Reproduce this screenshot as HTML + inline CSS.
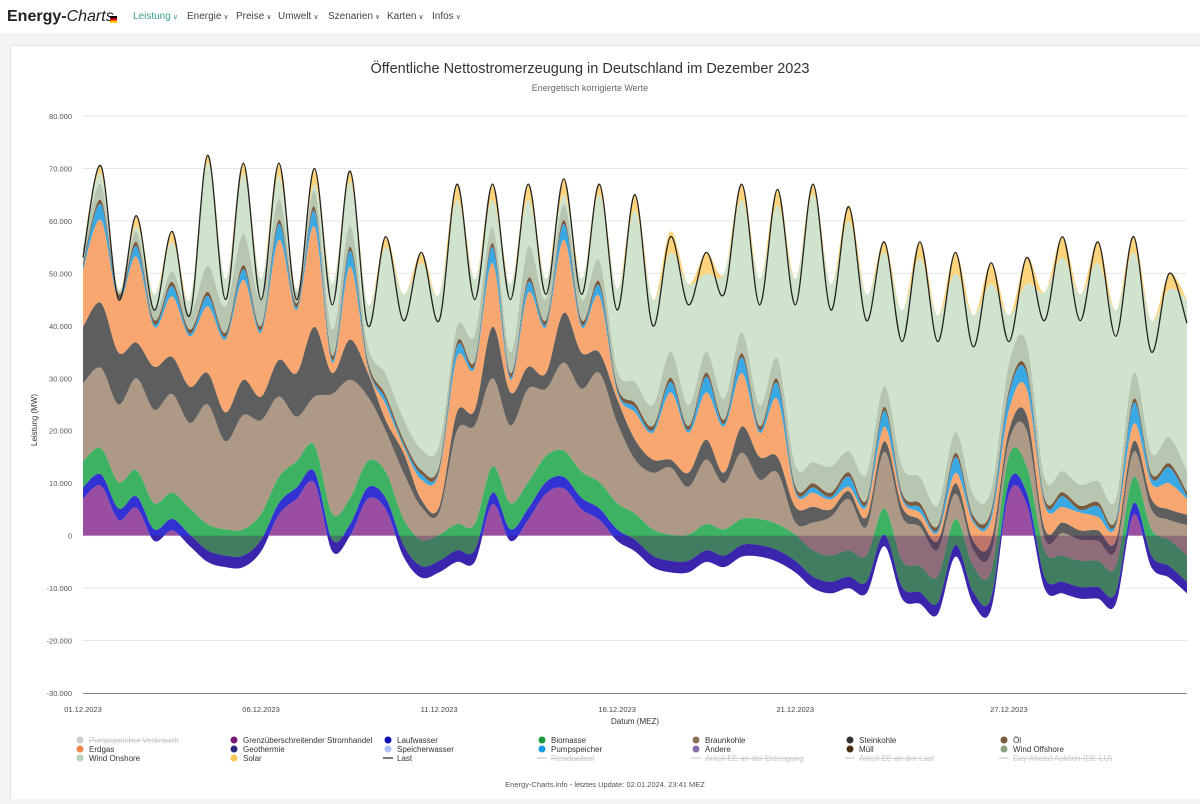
<!DOCTYPE html>
<html><head><meta charset="utf-8"><style>
body{margin:0;width:1200px;height:799px;overflow:hidden;background:#f3f4f6;font-family:"Liberation Sans",sans-serif}
svg text{font-family:"Liberation Sans",sans-serif}
</style></head><body>
<svg id="c" width="1200" height="799" xmlns="http://www.w3.org/2000/svg">
<rect x="0" y="0" width="1200" height="33" fill="#fff"/>
<rect x="10.5" y="45.5" width="1190" height="760" fill="#fff" stroke="#e3e3e3"/>
<g><text x="7" y="21" font-size="16" font-weight="bold" fill="#222">Energy-<tspan font-weight="normal" font-style="italic">Charts</tspan></text>
<rect x="110" y="16" width="7" height="2.3" fill="#000"/><rect x="110" y="18.3" width="7" height="2.3" fill="#d00"/><rect x="110" y="20.6" width="7" height="2.3" fill="#fc0"/></g>
<g font-size="10" fill="#444">
<text x="133" y="19" fill="#3aa08a">Leistung<tspan font-size="7" dx="2">∨</tspan></text>
<text x="187" y="19">Energie<tspan font-size="7" dx="2">∨</tspan></text>
<text x="236" y="19">Preise<tspan font-size="7" dx="2">∨</tspan></text>
<text x="278" y="19">Umwelt<tspan font-size="7" dx="2">∨</tspan></text>
<text x="328" y="19">Szenarien<tspan font-size="7" dx="2">∨</tspan></text>
<text x="387" y="19">Karten<tspan font-size="7" dx="2">∨</tspan></text>
<text x="432" y="19">Infos<tspan font-size="7" dx="2">∨</tspan></text>
</g>
<text x="590" y="73" text-anchor="middle" font-size="14.5" fill="#333">Öffentliche Nettostromerzeugung in Deutschland im Dezember 2023</text>
<text x="590" y="91" text-anchor="middle" font-size="9" fill="#666">Energetisch korrigierte Werte</text>
<g id="grid"></g><g id="areas"></g><g id="axes"></g>
<text transform="translate(37,420) rotate(-90)" text-anchor="middle" font-size="8" fill="#333">Leistung (MW)</text>
<text x="635" y="724" text-anchor="middle" font-size="8" fill="#333">Datum (MEZ)</text>
<g id="legend" font-size="8" fill="#333"></g>
<text x="605" y="787" text-anchor="middle" font-size="7.5" fill="#555">Energy-Charts.info - letztes Update: 02.01.2024, 23:41 MEZ</text>
</svg>
<script>
const yTicks=[80000,70000,60000,50000,40000,30000,20000,10000,0,-10000,-20000,-30000];
const yTickLabels=["80.000","70.000","60.000","50.000","40.000","30.000","20.000","10.000","0","-10.000","-20.000","-30.000"];
const xTickDays=[0,5,10,15,20,26];
const xTickLabels=["01.12.2023","06.12.2023","11.12.2023","16.12.2023","21.12.2023","27.12.2023"];
// values in GW, sampled every 12h (t = 0, 0.5, ... 31 days)
const last=[53,70.5,45,61,43,58,42,72.5,45,71,45,71,45,70,44,69.5,40,57,41,54,41,67,45,67,45,67,46,68,46,67,43,65,40,57,44,54,46,67,44,66,44,67,43,62.7,41,56,37,56,37,54,36,52,37,53,41,57,41,56,38,57,35,50,40.5];
const handel=[7,9.5,3,5.3,-1,1,-2,-5,-6,-6,-3,4,7,10,-3,0,7,5,-4,-8,-7,-5,-5,6,-1,3,8,9,5,3,-1,-3,-6,-7,-7,-5,-6,-4,-4,-5,-7,-10,-11,-10,-11,-2,-12,-13,-15,-4,-13,-14,8,6,-10,-11,-12,-12,-13,4,-6,-8,-11];
const laufwasser=[2.2,2.2,2.2,2.2,2.2,2.2,2.2,2.2,2.2,2.2,2.2,2.2,2.2,2.2,2.2,2.2,2.2,2.2,2.2,2.2,2.2,2.2,2.2,2.2,2.2,2.2,2.2,2.2,2.2,2.2,2.2,2.2,2.2,2.2,2.2,2.2,2.2,2.2,2.2,2.2,2.2,2.2,2.2,2.2,2.2,2.2,2.2,2.2,2.2,2.2,2.2,2.2,2.2,2.2,2.2,2.2,2.2,2.2,2.2,2.2,2.2,2.2,2.2];
const biomasse=[5,5,5,5,5,5,5,5,5,5,5,5,5,5,5,5,5,5,5,5,5,5,5,5,5,5,5,5,5,5,5,5,5,5,5,5,5,5,5,5,5,5,5,5,5,5,5,5,5,5,5,5,5,5,5,5,5,5,5,5,5,5,5];
const braunkohle=[14.8,15.3,14.8,17.5,17.8,18.8,16.3,22.8,16.8,21.8,17.8,15.3,8.5,9.3,22.8,22.5,12.3,7.8,8.8,6.3,4.2,17.8,18.8,16.8,14.8,17.8,12.8,16.8,15.8,20.8,15.3,10.3,10.8,12.8,9.1,12.3,8.8,12.6,7.5,9.8,2.3,5.3,7.4,9.8,5.5,10.8,8.4,7.5,5.1,4.8,3.1,3.6,2.8,6.8,2.4,4.3,4,3.8,3.1,4.8,3.8,3.8,5.8];
const steinkohle=[10.8,12.4,9.9,6.8,8.2,7.1,6.9,6,5.5,6.7,4.5,7,8.3,13.3,4,7.7,4.5,2,3.8,1.4,1.1,3.5,3,9.8,6.3,4.2,3,9.5,6.9,3.9,4.5,3.8,2.5,1.5,2.7,3.8,2,5,4.3,3,3,3,1.4,1.5,1.8,2,1.9,1.3,1.7,2,1.7,2.2,2,3,1.8,2,1.8,2,1.7,2,2,2,2];
const erdgas=[10.9,15.8,10.1,16.4,7.6,11.5,9.6,12.7,13.9,19.1,12.2,22.9,12,19.1,2,13.9,1,3,1.2,3.8,6.5,10.5,8,12.2,2.4,14.1,8.8,13.9,4.9,10.7,1.3,5.2,5.1,12.8,7.6,9,8.8,10.2,4.6,11,2.7,2.7,1.9,0.8,2,2.8,1.4,1.4,1.6,2,3.5,4,4,5,4.5,3,3.4,2.6,2.7,3.3,3,5,3];
const pumpspeicher=[0.5,3,0.3,2,0.5,2,0.5,2,0.5,2,0.5,3,0.5,3,0.5,3,0.5,1,0.5,1,0.5,2,0.5,3,0.5,2,0.5,3,0.5,2,0.5,1,0.5,2,0.5,3,0.5,3,0.5,3,0.5,1,0.5,2,0.5,3,0.5,1,0.5,3,0.5,1,3,3,0.5,2,0.5,2,0.5,4,1,3,0.5];
const oel=[0.8,0.8,0.8,0.8,0.8,0.8,0.8,0.8,0.8,0.8,0.8,0.8,0.8,0.8,0.8,0.8,0.8,0.8,0.8,0.8,0.8,0.8,0.8,0.8,0.8,0.8,0.8,0.8,0.8,0.8,0.8,0.8,0.8,0.8,0.8,0.8,0.8,0.8,0.8,0.8,0.8,0.8,0.8,0.8,0.8,0.8,0.8,0.8,0.8,0.8,0.8,0.8,0.8,0.8,0.8,0.8,0.8,0.8,0.8,0.8,0.8,0.8,0.8];
const windOffshore=[2.5,3,0.6,2,2,2,3,5,5,6,5,4,2,3,5,4,3,4,4,4,4,3,5,3,4,6,4,3,4,4,3,4,4,5,4,4,4,4,4,4,4,4,5,4,5,4,5,5,4,4,4,4,5,5,4,4,4,4,4,5,4,5,4];
const windOnshore=[0.5,2,0.3,1,2.9,5.6,2.7,19.5,5.3,11.4,4,4.3,0.7,1.3,8.7,8.4,7.7,24.2,23.7,35.5,28.7,24.2,10.7,5.2,13,8.9,3.9,1.8,3.9,12.6,15.4,32.7,20.1,18.9,23.1,14.9,23.9,25.2,24.1,29.2,35.5,51,34.8,43.9,34.2,25.4,29.8,41.8,36.1,30.2,34.2,39.2,9.2,11.2,35.2,40.7,36.3,41.6,36,22.9,25.2,28.2,32.7];
const solar=[0,1.5,0,2,0,2,0,1.5,0,2,0,2.5,0,3,0,2,0,2,0,2,0,3,0,3,0,3,0,3,0,2,0,3,0,4,0,4,0,3,0,3,0,2,0,3,0,2,0,3,0,4,0,4,0,5,0,4,0,4,0,3,0,3,0];

const NS='http://www.w3.org/2000/svg';
const X0=83,X1=1187,YT=116,YB=693,DAYS=31;
const xs=d=>X0+(d/DAYS)*(X1-X0);
const ys=v=>YT+(80000-v)/110000*(YB-YT);
const tOf=i=>i*0.5;
function mk(tag,attrs,parent){const e=document.createElementNS(NS,tag);for(const k in attrs)e.setAttribute(k,attrs[k]);parent.appendChild(e);return e;}
const grid=document.getElementById('grid'),areas=document.getElementById('areas'),axes=document.getElementById('axes');
yTicks.forEach((v,i)=>{
 if(v!==-30000){const l=mk('line',{x1:X0,x2:X1,y1:ys(v),y2:ys(v),stroke:'#e6e6e6','stroke-width':1},grid);
 
 }
 const t=mk('text',{x:72,y:ys(v)+3,'text-anchor':'end','font-size':7.5,fill:'#555'},axes);t.textContent=yTickLabels[i];
 
 
});
const ax=mk('line',{x1:X0,x2:X1,y1:YB+0.5,y2:YB+0.5,stroke:'#888','stroke-width':1},axes);


xTickDays.forEach((d,i)=>{const t=mk('text',{x:xs(d),y:712,'text-anchor':'middle','font-size':7.5,fill:'#444'},axes);t.textContent=xTickLabels[i];
 
 });

const defs=mk('defs',{},areas);
const cpA=mk('clipPath',{id:'above'},defs);mk('rect',{x:0,y:0,width:1200,height:ys(0)},cpA);
const cpB=mk('clipPath',{id:'below'},defs);mk('rect',{x:0,y:ys(0),width:1200,height:800},cpB);

const n=last.length;
// smooth (Catmull-Rom) path through points
function smooth(pts,start){
 let p=(start?'M':'L')+pts[0][0].toFixed(1)+','+pts[0][1].toFixed(1);
 for(let i=0;i<pts.length-1;i++){
  const p0=pts[Math.max(0,i-1)],p1=pts[i],p2=pts[i+1],p3=pts[Math.min(pts.length-1,i+2)];
  const c1x=p1[0]+(p2[0]-p0[0])/6,c1y=p1[1]+(p2[1]-p0[1])/6;
  const c2x=p2[0]-(p3[0]-p1[0])/6,c2y=p2[1]-(p3[1]-p1[1])/6;
  p+='C'+c1x.toFixed(1)+','+c1y.toFixed(1)+' '+c2x.toFixed(1)+','+c2y.toFixed(1)+' '+p2[0].toFixed(1)+','+p2[1].toFixed(1);
 }
 return p;
}
function pts(arr){return arr.map((v,i)=>[xs(tOf(i)),ys(v*1000)]);}
function areaPath(lo,hi){return smooth(pts(hi),true)+smooth(pts(lo).reverse(),false)+'Z';}
const zero=last.map(()=>0);
const pp=mk('path',{d:areaPath(zero,handel),fill:'#9a4ea2','clip-path':'url(#above)'},areas);


const layers=[['laufwasser',laufwasser,'#3232d2'],['biomasse',biomasse,'#3cb262'],['braunkohle',braunkohle,'#ae9886'],['steinkohle',steinkohle,'#5e5e5e'],['erdgas',erdgas,'#f7a76f'],['pumpspeicher',pumpspeicher,'#3aa9e3'],['oel',oel,'#7c5a3e'],['wind-offshore',windOffshore,'#b7c6b0'],['wind-onshore',windOnshore,'#d0e3cc'],['solar',solar,'#fdd47c']];
let base=handel.slice();
layers.forEach(([name,vals,col])=>{
 const top=base.map((b,i)=>b+vals[i]);
 const p=mk('path',{d:areaPath(base,top),fill:col},areas);
 
 
 base=top;
});
const ov=mk('path',{d:areaPath(zero,handel),fill:'#4a1060','fill-opacity':0.32,'clip-path':'url(#below)'},areas);


const ll=mk('path',{d:smooth(pts(last),true),fill:'none',stroke:'#222','stroke-width':1.3},areas);



const leg=[["Pumpspeicher Verbrauch","#ccc",1,0],["Grenzüberschreitender Stromhandel","#7a1a78",0,0],["Laufwasser","#1010b0",0,0],["Biomasse","#1a9a3a",0,0],["Braunkohle","#8b6f55",0,0],["Steinkohle","#333",0,0],["Öl","#7a5a40",0,0],
["Erdgas","#f08a4b",0,0],["Geothermie","#2a2a80",0,0],["Speicherwasser","#b0c0ff",0,0],["Pumpspeicher","#1a9ae0",0,0],["Andere","#8a66aa",0,0],["Müll","#4a3010",0,0],["Wind Offshore","#8aa080",0,0],
["Wind Onshore","#b8d0b4",0,0],["Solar","#fcc75a",0,0],["Last","#222",0,1],["Residuallast","#ccc",1,1],["Anteil EE an der Erzeugung","#ccc",1,1],["Anteil EE an der Last","#ccc",1,1],["Day Ahead Auktion (DE-LU)","#ccc",1,1]];
const lg=document.getElementById('legend');
leg.forEach(([name,col,off,isLine],i)=>{
 const cx=80+(i%7)*154,cy=740+Math.floor(i/7)*9;
 const g=mk('g',{},lg);
 
 
 if(isLine)mk('line',{x1:cx-5,x2:cx+5,y1:cy,y2:cy,stroke:col,'stroke-width':1.2},g);
 else mk('circle',{cx:cx,cy:cy,r:3.5,fill:col},g);
 const t=mk('text',{x:cx+9,y:cy+3,fill:off?'#c8c8c8':'#333','text-decoration':off?'line-through':'none'},g);t.textContent=name;
});
</script>
</body></html>
